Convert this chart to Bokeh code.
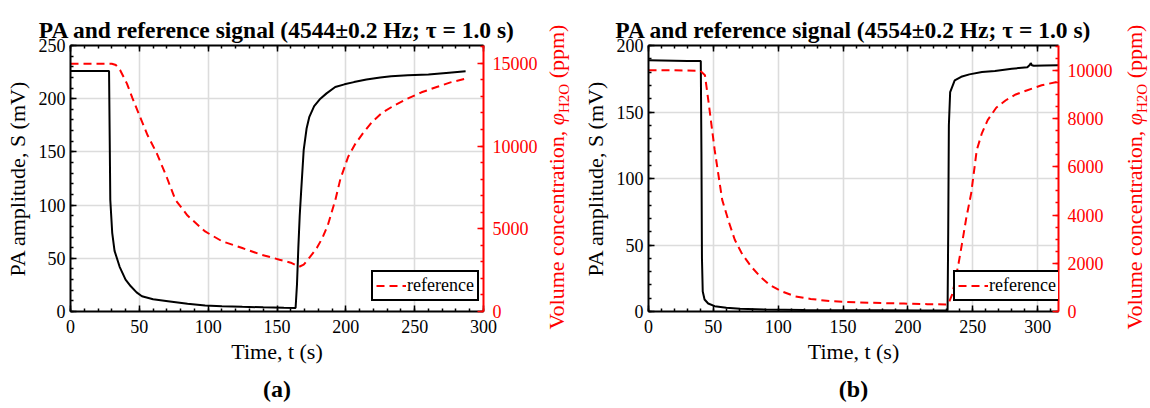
from bokeh.plotting import figure
from bokeh.models import (Range1d, LinearAxis, SingleIntervalTicker, Legend,
                          LegendItem, Grid, Title, Div)
from bokeh.layouts import row
from bokeh.embed import file_html
from bokeh.resources import INLINE

# ---------------- data: panel (a) ----------------
ta_pa = [0, 10, 20, 28.0, 28.5, 28.9, 30.3, 32, 35.7, 40, 43.8, 48, 51.9, 60, 70.8, 85,
         97.8, 110, 124.8, 140, 155, 163.5, 164.5, 165.5, 166.5, 167.5, 169.4, 171.5,
         173.5, 177, 181.5, 186, 192.3, 199, 205.9, 215, 225, 232.9, 245, 260, 275, 287]
sa_pa = [226, 226, 226, 226, 160, 105, 74, 57, 42, 30, 23.7, 18, 14.3, 11.5, 9.7, 7.2,
         5.6, 5.0, 4.4, 3.9, 3.5, 3.3, 25, 60, 90, 112, 152, 172, 183, 193, 200, 205,
         211, 213.5, 215.6, 218, 220, 221, 222, 222.8, 224.5, 225.8]
ta_ref = [0, 10, 20, 30, 33, 36, 41, 45, 50.5, 56, 62.7, 70, 76.2, 85, 97.8, 110, 124.8,
          138, 151.8, 160, 166, 169.4, 174, 178.9, 183, 187, 192.4, 196, 201.7, 207,
          212.5, 219, 226, 235, 244.7, 255, 266, 276, 287]
ca_ref = [14980, 14980, 14980, 14980, 14900, 14600, 13777, 12900, 11767, 10650, 9560,
          8100, 6747, 5800, 4837, 4250, 3835, 3450, 3133, 2950, 2700, 2831, 3300, 3835,
          4450, 5241, 6747, 8000, 9357, 10150, 10780, 11450, 11990, 12450, 12870, 13250,
          13570, 13850, 14080]

# ---------------- data: panel (b) ----------------
tb_pa = [0, 10, 20, 30, 40.3, 40.8, 41.2, 41.8, 43.2, 46, 51, 60, 70.6, 90, 120, 150,
         180, 210, 230.5, 231.0, 231.5, 232.5, 236, 241, 247.3, 257, 267, 280, 292, 294,
         294.6, 295.5, 297, 305, 316]
sb_pa = [189, 188.8, 188.6, 188.4, 188.3, 120, 40, 15, 9, 6, 4, 2.8, 2, 1.5, 1.2, 1.0,
         0.9, 0.8, 0.8, 60, 140, 165, 173.8, 176.5, 178.3, 180, 180.8, 182.5, 183.7,
         185.5, 186.8, 185.2, 184.8, 185, 185.2]
tb_ref = [0, 20, 40, 43.5, 46, 51, 56.8, 62, 66.5, 72, 79, 86, 93, 102, 112.7, 125, 140.8,
          160, 180, 196.9, 215, 229, 231, 234, 236, 239, 241.7, 245, 248.7, 253, 257,
          261.4, 268, 275.4, 283, 292, 303, 314.6]
cb_ref = [10000, 10000, 9980, 9800, 8800, 6700, 4628, 3700, 2975, 2400, 1872, 1450, 1116,
          850, 632, 520, 426, 380, 350, 330, 305, 289, 300, 700, 1185, 2000, 2838, 3900,
          4900, 6694, 7400, 7934, 8450, 8760, 9000, 9174, 9380, 9517]

titles = ["PA and reference signal (4544\u00b10.2 Hz; \u03c4 = 1.0 s)",
          "PA and reference signal (4554\u00b10.2 Hz; \u03c4 = 1.0 s)"]
captions = ["(a)", "(b)"]
x_label = "Time, t (s)"
y_label = "PA amplitude, S (mV)"
legend_label = "reference"

SERIF = "Liberation Serif"
RED = "#ff0000"


def style_axis(ax, color, standoff):
    ax.axis_line_color = color
    ax.axis_line_width = 2
    ax.major_tick_line_color = color
    ax.minor_tick_line_color = color
    ax.major_tick_line_width = 1.5
    ax.minor_tick_line_width = 1.5
    ax.major_tick_in = 6
    ax.major_tick_out = 0
    ax.minor_tick_in = 3
    ax.minor_tick_out = 0
    ax.major_label_text_font = SERIF
    ax.major_label_text_font_size = "18px"
    ax.major_label_text_color = color
    ax.major_label_standoff = standoff
    ax.axis_label_text_font = SERIF
    ax.axis_label_text_font_size = "22px"
    ax.axis_label_text_font_style = "normal"
    ax.axis_label_text_color = color


def panel(t_pa, s_pa, t_ref, c_ref, xmax, ymax, cmax, cint, cminor, left_b, right_b,
          width, title, caption, legend_x):
    p = figure(width=width, height=408, x_range=Range1d(0, xmax),
               y_range=Range1d(0, ymax), output_backend="svg", toolbar_location=None,
               x_axis_type=None, y_axis_type=None,
               min_border_left=left_b, min_border_right=right_b,
               min_border_top=45, min_border_bottom=96)
    p.title.text = title
    p.title.align = "center"
    p.title.text_font = SERIF
    p.title.text_font_size = "23.5px"
    p.title.text_font_style = "bold"
    p.title.text_color = "black"
    p.title.standoff = 6
    p.outline_line_color = None
    p.background_fill_color = "white"
    p.border_fill_color = "white"
    p.extra_y_ranges = {"conc": Range1d(0, cmax)}

    xt = SingleIntervalTicker(interval=50, num_minor_ticks=5)
    yt = SingleIntervalTicker(interval=50, num_minor_ticks=5)
    ct = SingleIntervalTicker(interval=cint, num_minor_ticks=cminor)

    p.add_layout(Grid(dimension=0, ticker=xt, grid_line_color="#dcdcdc",
                      grid_line_width=1.6))
    p.add_layout(Grid(dimension=1, ticker=yt, grid_line_color="#dcdcdc",
                      grid_line_width=1.6))

    bottom = LinearAxis(ticker=xt, axis_label=x_label)
    style_axis(bottom, "black", 8)
    bottom.axis_label_standoff = 3
    p.add_layout(bottom, "below")
    top = LinearAxis(ticker=xt)
    style_axis(top, "black", 0)
    top.major_label_overrides = {v: "" for v in range(0, 351, 50)}
    p.add_layout(top, "above")
    left = LinearAxis(ticker=yt, axis_label=y_label)
    style_axis(left, "black", 5)
    left.axis_label_standoff = 6
    p.add_layout(left, "left")
    right = LinearAxis(y_range_name="conc", ticker=ct)
    style_axis(right, RED, 9)
    p.add_layout(right, "right")

    p.line(t_pa, s_pa, line_color="black", line_width=2)
    r = p.line(t_ref, c_ref, y_range_name="conc", line_color=RED, line_width=2,
               line_dash="8 5")

    leg = Legend(items=[LegendItem(label=legend_label, renderers=[r])],
                 location=(legend_x, 10), border_line_color="black",
                 border_line_width=2, border_line_alpha=1.0,
                 background_fill_color="white", background_fill_alpha=1.0,
                 padding=3, spacing=0, margin=0,
                 glyph_width=30, glyph_height=15, label_height=15, label_standoff=1,
                 label_text_font=SERIF, label_text_font_size="18px",
                 label_text_color="black")
    p.add_layout(leg, "center")

    cap = Title(text=caption, align="center", text_font=SERIF, text_font_size="24px",
                text_font_style="bold", text_color="black", standoff=14)
    p.add_layout(cap, "below")
    return p


def right_label(width, cx):
    html = ("<div style=\"position:relative;width:%dpx;height:408px;\">"
            "<span style=\"position:absolute;left:%dpx;top:177px;"
            "transform:translate(-50%%,-50%%) rotate(-90deg);white-space:nowrap;"
            "font-family:'Liberation Serif',serif;font-size:22px;color:#ff0000;"
            "line-height:1;\">Volume concentration, <i>\u03c6</i>"
            "<sub style=\"font-size:15px;\">H2O</sub> (ppm)</span></div>") % (width, cx)
    return Div(text=html, width=width, height=408, margin=0)


pa = panel(ta_pa, sa_pa, ta_ref, ca_ref, 300, 250, 16080, 5000, 5, 70, 57, 540,
           titles[0], captions[0], 301)
pb = panel(tb_pa, sb_pa, tb_ref, cb_ref, 316, 200, 11030, 2000, 4, 73, 54, 540,
           titles[1], captions[1], 305)

layout = row(pa, right_label(35, 19), pb, right_label(35, 22), spacing=0)
open("out.html", "w").write(file_html(layout, INLINE))
